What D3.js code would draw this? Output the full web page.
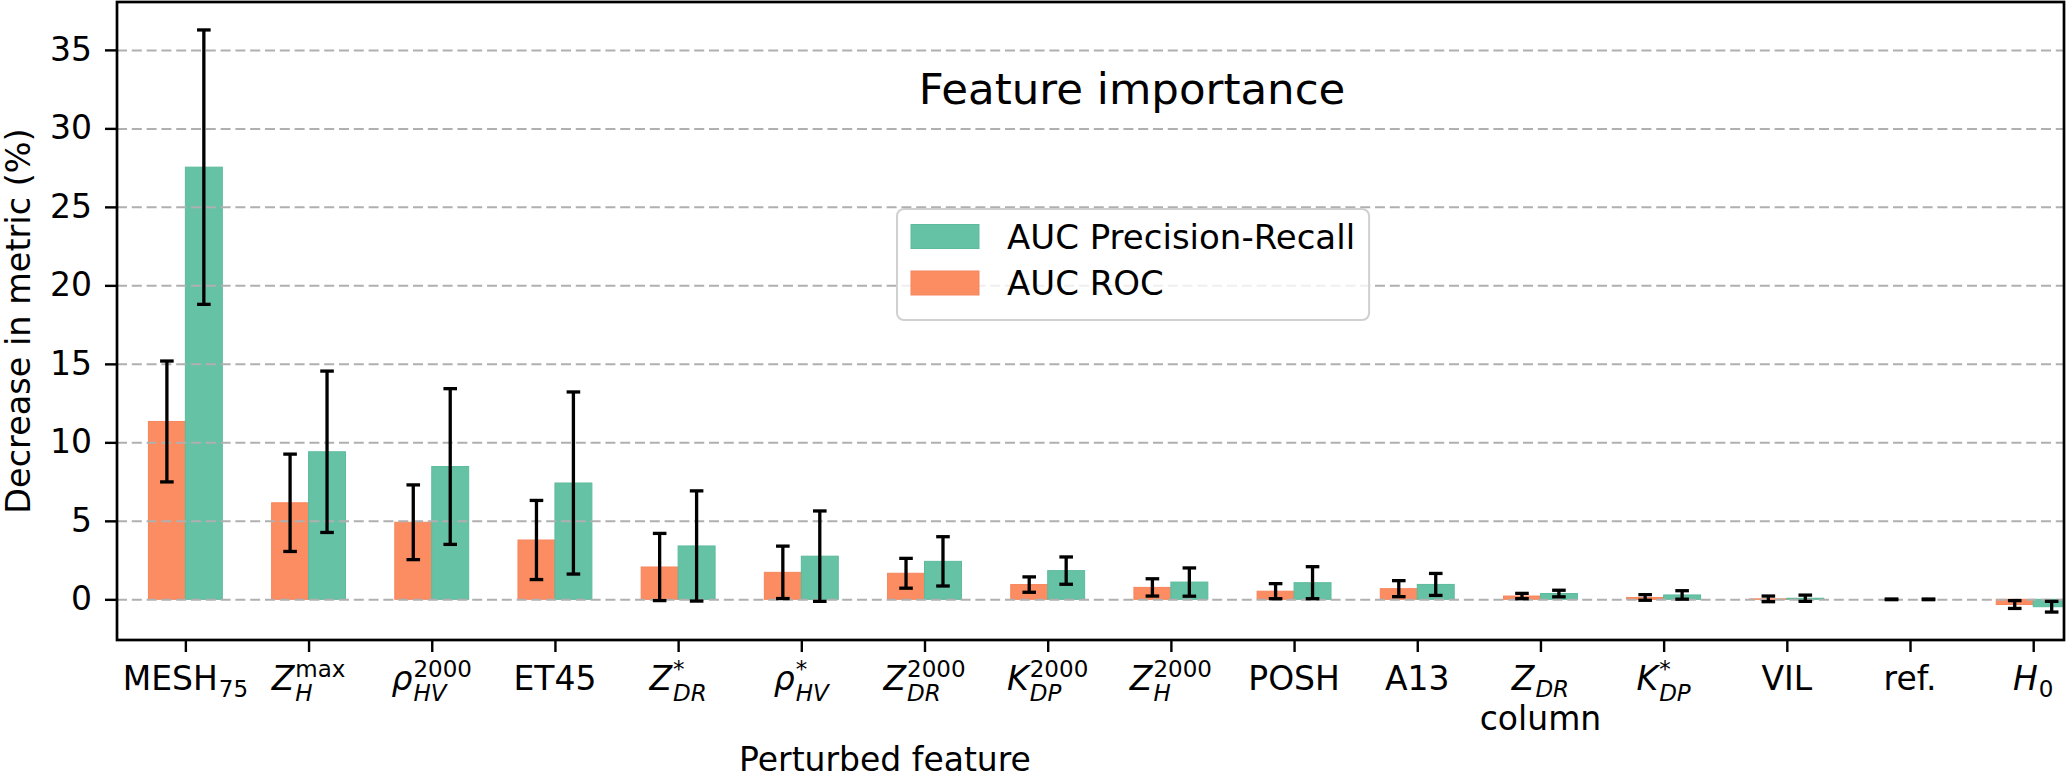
<!DOCTYPE html>
<html>
<head>
<meta charset="utf-8">
<script src="https://cdn.jsdelivr.net/npm/d3@7"></script>
<style>
  body { margin: 0; background: #fff; }
  svg { display: block; font-family: "DejaVu Sans", sans-serif; }
</style>
</head>
<body>
<svg id="chart" width="2067" height="779"></svg>
<script>
// Données
const features = ["MESH75", "ZHmax", "rhoHV2000", "ET45", "ZDR*", "rhoHV*", "ZDR2000", "KDP2000",
                  "ZH2000", "POSH", "A13", "ZDR column", "KDP*", "VIL", "ref.", "H0"];

// étiquettes : [texte, type] avec "" droit, "i" italique, "sub"/"subi" indice, "sup" exposant, "br" 2e ligne
const tickLabels = [
    [["MESH", ""], ["75", "sub"]],
    [["Z", "i"], ["H", "subi"], ["max", "sup"]],
    [["ρ", "i"], ["HV", "subi"], ["2000", "sup"]],
    [["ET45", ""]],
    [["Z", "i"], ["DR", "subi"], ["*", "sup"]],
    [["ρ", "i"], ["HV", "subi"], ["*", "sup"]],
    [["Z", "i"], ["DR", "subi"], ["2000", "sup"]],
    [["K", "i"], ["DP", "subi"], ["2000", "sup"]],
    [["Z", "i"], ["H", "subi"], ["2000", "sup"]],
    [["POSH", ""]],
    [["A13", ""]],
    [["Z", "i"], ["DR", "subi"], ["column", "br"]],
    [["K", "i"], ["DP", "subi"], ["*", "sup"]],
    [["VIL", ""]],
    [["ref.", ""]],
    [["H", "i"], ["0", "sub"]]
];

const rocMean = [11.33, 6.15, 4.91, 3.78, 2.06, 1.72, 1.66, 0.94, 0.76, 0.52, 0.68, 0.21, 0.12, 0.03, 0.0, -0.33];
const rocStd  = [3.85, 3.10, 2.38, 2.52, 2.14, 1.67, 0.95, 0.49, 0.55, 0.48, 0.51, 0.17, 0.18, 0.18, 0.02, 0.25];
const prMean  = [27.53, 9.40, 8.46, 7.41, 3.40, 2.75, 2.42, 1.83, 1.10, 1.06, 0.95, 0.37, 0.28, 0.07, 0.0, -0.47];
const prStd   = [8.74, 5.14, 4.96, 5.80, 3.51, 2.88, 1.57, 0.87, 0.90, 1.02, 0.70, 0.21, 0.27, 0.20, 0.02, 0.34];

const yTicks = [0, 5, 10, 15, 20, 25, 30, 35];
const yLimits = [-2.59, 38.05];
const xLimits = [-0.555, 15.25];

const series = [
    { name: "AUC ROC", mean: rocMean, std: rocStd, offset: -0.15, color: "#fc8d62", edge: "#f5865c" },
    { name: "AUC Precision-Recall", mean: prMean, std: prStd, offset: 0.15, color: "#66c2a5", edge: "#5cbb9c" }
];

const svg = d3.select("#chart");
const plot = { left: 117, right: 2064, top: 2, bottom: 640 };

const x = d3.scaleLinear().domain(xLimits).range([plot.left, plot.right]);
const y = d3.scaleLinear().domain(yLimits).range([plot.bottom, plot.top]);
const barW = x(0.3) - x(0);

svg.append("rect").attr("width", 2067).attr("height", 779).attr("fill", "#fff");

svg.append("clipPath").attr("id", "clip")
    .append("rect")
    .attr("x", plot.left).attr("y", plot.top)
    .attr("width", plot.right - plot.left).attr("height", plot.bottom - plot.top);

const inner = svg.append("g").attr("clip-path", "url(#clip)");

// Barres
series.forEach((s) => {
    inner.selectAll(null)
        .data(s.mean)
        .enter()
        .append("rect")
        .attr("x", (d, i) => x(i + s.offset) - barW / 2)
        .attr("y", (d) => Math.min(y(d), y(0)))
        .attr("width", barW)
        .attr("height", (d) => Math.abs(y(d) - y(0)))
        .attr("fill", s.color)
        .attr("stroke", s.edge)
        .attr("stroke-width", 1);
});

// Grille horizontale (au-dessus des barres)
inner.append("g")
    .attr("transform", `translate(${plot.left},0)`)
    .call(d3.axisLeft(y).tickValues(yTicks).tickSize(-(plot.right - plot.left)).tickFormat(""))
    .call((g) => g.select(".domain").remove())
    .selectAll("line")
    .attr("stroke", "#b0b0b0")
    .attr("stroke-width", 2)
    .attr("stroke-dasharray", "10,4.8");

// Barres d'erreur
series.forEach((s) => {
    const eb = inner.append("g").attr("stroke", "#000").attr("stroke-width", 3.3);
    s.mean.forEach((m, i) => {
        const cx = x(i + s.offset);
        const lo = y(m - s.std[i]), hi = y(m + s.std[i]);
        eb.append("line").attr("x1", cx).attr("x2", cx).attr("y1", lo).attr("y2", hi);
        eb.append("line").attr("x1", cx - 6.8).attr("x2", cx + 6.8).attr("y1", lo).attr("y2", lo);
        eb.append("line").attr("x1", cx - 6.8).attr("x2", cx + 6.8).attr("y1", hi).attr("y2", hi);
    });
});

// Axe Y
const yAxis = svg.append("g")
    .attr("transform", `translate(${plot.left},0)`)
    .call(d3.axisLeft(y).tickValues(yTicks).tickSize(12).tickPadding(13).tickFormat(d3.format("d")));
yAxis.select(".domain").remove();
yAxis.selectAll("line").attr("stroke", "#000").attr("stroke-width", 2.4);
yAxis.selectAll("text").attr("font-size", 33).attr("font-family", "DejaVu Sans").attr("fill", "#000");

// Axe X (graduations seules)
const xAxis = svg.append("g")
    .attr("transform", `translate(0,${plot.bottom})`)
    .call(d3.axisBottom(x).tickValues(d3.range(features.length)).tickSize(12).tickFormat(""));
xAxis.select(".domain").remove();
xAxis.selectAll("line").attr("stroke", "#000").attr("stroke-width", 2.4);

// Étiquettes X avec indices / exposants
const labelBase = 690;
const xLabels = svg.append("g").attr("fill", "#000");
tickLabels.forEach((segs, i) => {
    const g = xLabels.append("g").attr("transform", `translate(${x(i)},${labelBase})`);
    const line = g.append("g");
    const hasSup = segs.some((s) => s[1] === "sup");
    let cursor = 0, scriptStart = 0, afterSub = false;
    segs.forEach(([txt, kind]) => {
        if (kind === "br") {
            g.append("text").attr("x", 0).attr("y", 40).attr("text-anchor", "middle")
                .attr("font-size", 33).text(txt);
            return;
        }
        const isSub = kind === "sub" || kind === "subi";
        const isSup = kind === "sup";
        const t = line.append("text")
            .attr("font-size", isSub || isSup ? 23 : 33)
            .attr("font-style", kind === "i" || kind === "subi" ? "italic" : "normal")
            .text(txt);
        let dy = 0;
        if (isSub) dy = hasSup ? 11 : 7;
        if (isSup) dy = -13;
        const xPos = isSup && afterSub ? scriptStart : cursor + (isSub || isSup ? 1 : 0);
        t.attr("x", xPos).attr("y", dy);
        const w = t.node().getComputedTextLength();
        if (isSub) { scriptStart = xPos; cursor = xPos + w; afterSub = true; }
        else if (isSup && afterSub) { cursor = Math.max(cursor, scriptStart + w); afterSub = false; }
        else { cursor = xPos + w; afterSub = false; }
    });
    line.attr("transform", `translate(${-cursor / 2},0)`);
});

// Cadre
svg.append("rect")
    .attr("x", plot.left).attr("y", plot.top)
    .attr("width", plot.right - plot.left).attr("height", plot.bottom - plot.top)
    .attr("fill", "none").attr("stroke", "#000").attr("stroke-width", 2.7);

// Titre et libellés d'axes
svg.append("text")
    .attr("x", 1132).attr("y", 104)
    .attr("text-anchor", "middle")
    .attr("font-size", 43.5)
    .text("Feature importance");

svg.append("text")
    .attr("x", 885).attr("y", 771)
    .attr("text-anchor", "middle")
    .attr("font-size", 33)
    .text("Perturbed feature");

svg.append("text")
    .attr("transform", `translate(30,${(plot.top + plot.bottom) / 2}) rotate(-90)`)
    .attr("text-anchor", "middle")
    .attr("font-size", 33.5)
    .text("Decrease in metric (%)");

// Légende
const legend = svg.append("g").attr("transform", "translate(897,209)");
const legBox = legend.append("rect")
    .attr("rx", 7).attr("ry", 7)
    .attr("fill", "#fff").attr("fill-opacity", 0.8)
    .attr("stroke", "#d0d0d0").attr("stroke-width", 2);
const legItems = [series[1], series[0]];
let maxW = 0;
legItems.forEach((s, k) => {
    const yy = 15.5 + k * 46.5;
    legend.append("rect")
        .attr("x", 14).attr("y", yy)
        .attr("width", 68).attr("height", 24)
        .attr("fill", s.color).attr("stroke", s.edge).attr("stroke-width", 1);
    const t = legend.append("text")
        .attr("x", 110).attr("y", yy + 24)
        .attr("font-size", 34)
        .text(s.name);
    maxW = Math.max(maxW, t.node().getComputedTextLength());
});
legBox.attr("width", 110 + maxW + 14).attr("height", 111);
</script>
</body>
</html>
